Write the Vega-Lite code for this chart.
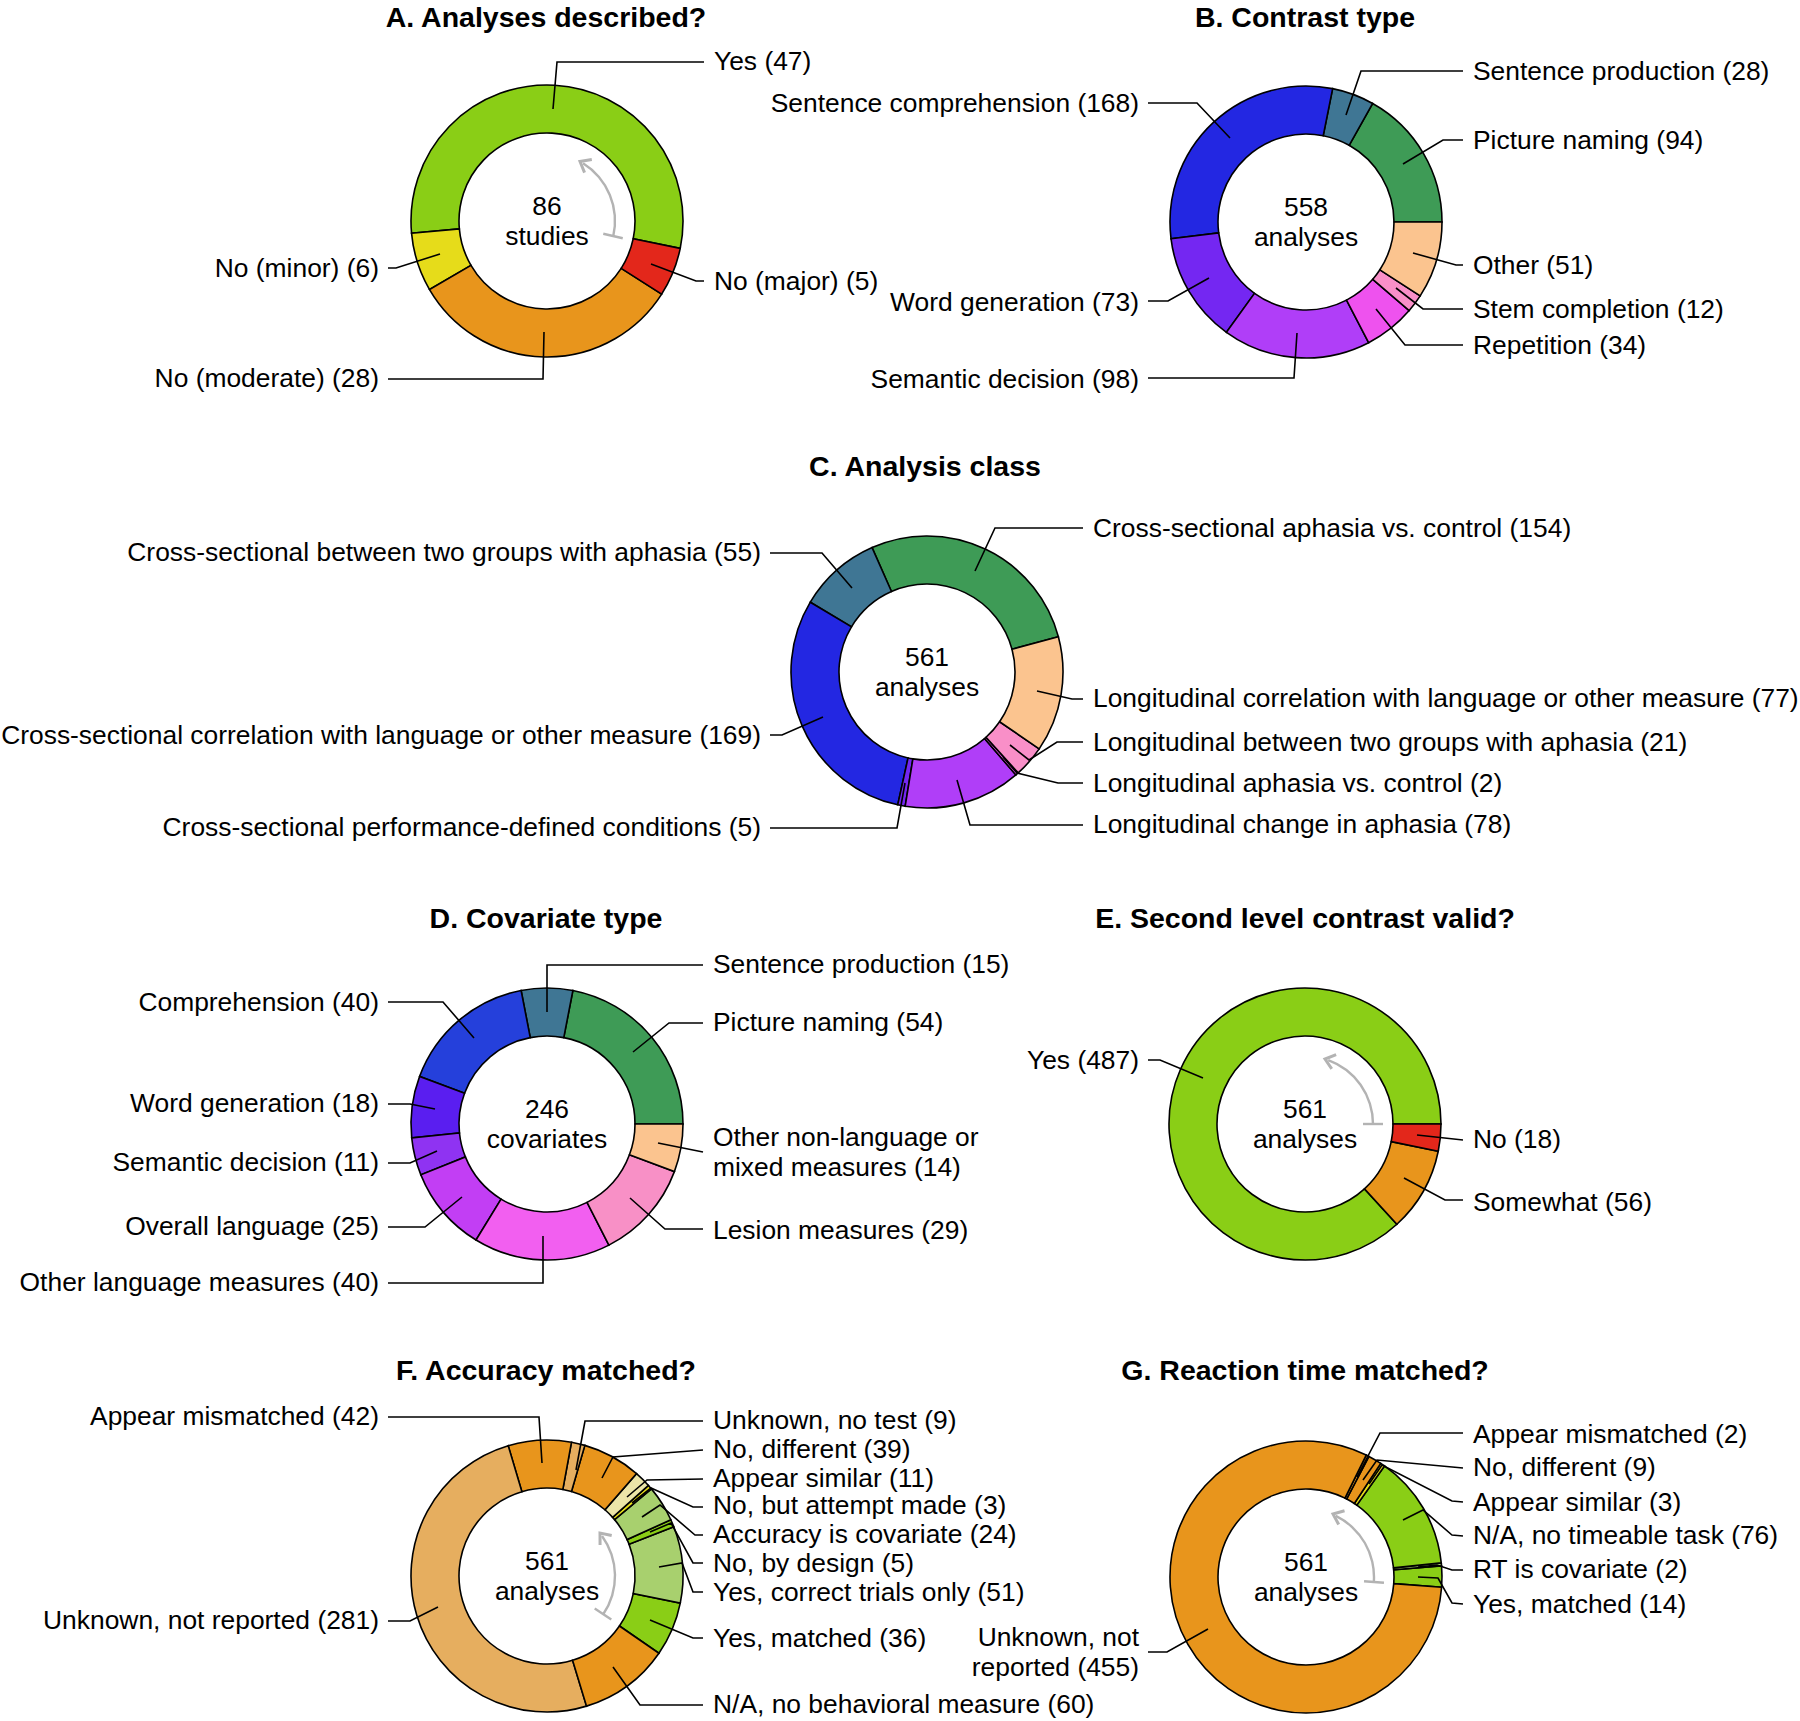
{
  "$schema": "https://vega.github.io/schema/vega-lite/v6.json",
  "width": 1800,
  "height": 1721,
  "autosize": {"type": "fit", "contains": "padding"},
  "padding": 0,
  "background": "white",
  "config": {"view": {"stroke": null}},
  "datasets": {
    "arcs": [
      {"chart": "A", "label": "Yes", "n": 47, "o": 1},
      {"chart": "A", "label": "No (minor)", "n": 6, "o": 2},
      {"chart": "A", "label": "No (moderate)", "n": 28, "o": 3},
      {"chart": "A", "label": "No (major)", "n": 5, "o": 4},
      {"chart": "B", "label": "Picture naming", "n": 94, "o": 1},
      {"chart": "B", "label": "Sentence production", "n": 28, "o": 2},
      {"chart": "B", "label": "Sentence comprehension", "n": 168, "o": 3},
      {"chart": "B", "label": "Word generation", "n": 73, "o": 4},
      {"chart": "B", "label": "Semantic decision", "n": 98, "o": 5},
      {"chart": "B", "label": "Repetition", "n": 34, "o": 6},
      {"chart": "B", "label": "Stem completion", "n": 12, "o": 7},
      {"chart": "B", "label": "Other", "n": 51, "o": 8},
      {"chart": "C", "label": "Cross-sectional aphasia vs. control", "n": 154, "o": 1},
      {"chart": "C", "label": "Cross-sectional between two groups with aphasia", "n": 55, "o": 2},
      {"chart": "C", "label": "Cross-sectional correlation with language or other measure", "n": 169, "o": 3},
      {"chart": "C", "label": "Cross-sectional performance-defined conditions", "n": 5, "o": 4},
      {"chart": "C", "label": "Longitudinal change in aphasia", "n": 78, "o": 5},
      {"chart": "C", "label": "Longitudinal aphasia vs. control", "n": 2, "o": 6},
      {"chart": "C", "label": "Longitudinal between two groups with aphasia", "n": 21, "o": 7},
      {"chart": "C", "label": "Longitudinal correlation with language or other measure", "n": 77, "o": 8},
      {"chart": "D", "label": "Picture naming", "n": 54, "o": 1},
      {"chart": "D", "label": "Sentence production", "n": 15, "o": 2},
      {"chart": "D", "label": "Comprehension", "n": 40, "o": 3},
      {"chart": "D", "label": "Word generation", "n": 18, "o": 4},
      {"chart": "D", "label": "Semantic decision", "n": 11, "o": 5},
      {"chart": "D", "label": "Overall language", "n": 25, "o": 6},
      {"chart": "D", "label": "Other language measures", "n": 40, "o": 7},
      {"chart": "D", "label": "Lesion measures", "n": 29, "o": 8},
      {"chart": "D", "label": "Other non-language or mixed measures", "n": 14, "o": 9},
      {"chart": "E", "label": "Yes", "n": 487, "o": 1},
      {"chart": "E", "label": "Somewhat", "n": 56, "o": 2},
      {"chart": "E", "label": "No", "n": 18, "o": 3},
      {"chart": "F", "label": "Yes, matched", "n": 36, "o": 1},
      {"chart": "F", "label": "Yes, correct trials only", "n": 51, "o": 2},
      {"chart": "F", "label": "No, by design", "n": 5, "o": 3},
      {"chart": "F", "label": "Accuracy is covariate", "n": 24, "o": 4},
      {"chart": "F", "label": "No, but attempt made", "n": 3, "o": 5},
      {"chart": "F", "label": "Appear similar", "n": 11, "o": 6},
      {"chart": "F", "label": "No, different", "n": 39, "o": 7},
      {"chart": "F", "label": "Unknown, no test", "n": 9, "o": 8},
      {"chart": "F", "label": "Appear mismatched", "n": 42, "o": 9},
      {"chart": "F", "label": "Unknown, not reported", "n": 281, "o": 10},
      {"chart": "F", "label": "N/A, no behavioral measure", "n": 60, "o": 11},
      {"chart": "G", "label": "Yes, matched", "n": 14, "o": 1},
      {"chart": "G", "label": "RT is covariate", "n": 2, "o": 2},
      {"chart": "G", "label": "N/A, no timeable task", "n": 76, "o": 3},
      {"chart": "G", "label": "Appear similar", "n": 3, "o": 4},
      {"chart": "G", "label": "No, different", "n": 9, "o": 5},
      {"chart": "G", "label": "Appear mismatched", "n": 2, "o": 6},
      {"chart": "G", "label": "Unknown, not reported", "n": 455, "o": 7}
    ],
    "leaders": [
      {"id": "A1", "s": 1, "x": 553, "y": 109}, {"id": "A1", "s": 2, "x": 557, "y": 62}, {"id": "A1", "s": 3, "x": 704, "y": 62},
      {"id": "A2", "s": 1, "x": 651, "y": 264}, {"id": "A2", "s": 2, "x": 696, "y": 281}, {"id": "A2", "s": 3, "x": 704, "y": 281},
      {"id": "A3", "s": 1, "x": 440, "y": 254}, {"id": "A3", "s": 2, "x": 396, "y": 268}, {"id": "A3", "s": 3, "x": 388, "y": 268},
      {"id": "A4", "s": 1, "x": 544, "y": 332}, {"id": "A4", "s": 2, "x": 543, "y": 379}, {"id": "A4", "s": 3, "x": 388, "y": 379},
      {"id": "B1", "s": 1, "x": 1346, "y": 115}, {"id": "B1", "s": 2, "x": 1361, "y": 71}, {"id": "B1", "s": 3, "x": 1463, "y": 71},
      {"id": "B2", "s": 1, "x": 1403, "y": 164}, {"id": "B2", "s": 2, "x": 1443, "y": 140}, {"id": "B2", "s": 3, "x": 1463, "y": 140},
      {"id": "B3", "s": 1, "x": 1413, "y": 253}, {"id": "B3", "s": 2, "x": 1456, "y": 265}, {"id": "B3", "s": 3, "x": 1463, "y": 265},
      {"id": "B4", "s": 1, "x": 1396, "y": 288}, {"id": "B4", "s": 2, "x": 1423, "y": 309}, {"id": "B4", "s": 3, "x": 1463, "y": 309},
      {"id": "B5", "s": 1, "x": 1376, "y": 309}, {"id": "B5", "s": 2, "x": 1405, "y": 345}, {"id": "B5", "s": 3, "x": 1463, "y": 345},
      {"id": "B6", "s": 1, "x": 1230, "y": 138}, {"id": "B6", "s": 2, "x": 1197, "y": 103}, {"id": "B6", "s": 3, "x": 1148, "y": 103},
      {"id": "B7", "s": 1, "x": 1209, "y": 278}, {"id": "B7", "s": 2, "x": 1168, "y": 301}, {"id": "B7", "s": 3, "x": 1148, "y": 301},
      {"id": "B8", "s": 1, "x": 1297, "y": 333}, {"id": "B8", "s": 2, "x": 1294, "y": 378}, {"id": "B8", "s": 3, "x": 1148, "y": 378},
      {"id": "C1", "s": 1, "x": 975, "y": 571}, {"id": "C1", "s": 2, "x": 995, "y": 528}, {"id": "C1", "s": 3, "x": 1083, "y": 528},
      {"id": "C2", "s": 1, "x": 1037, "y": 691}, {"id": "C2", "s": 2, "x": 1072, "y": 699}, {"id": "C2", "s": 3, "x": 1083, "y": 699},
      {"id": "C3", "s": 1, "x": 1010, "y": 745}, {"id": "C3", "s": 2, "x": 1029, "y": 760}, {"id": "C3", "s": 3, "x": 1057, "y": 742}, {"id": "C3", "s": 4, "x": 1083, "y": 742},
      {"id": "C4", "s": 1, "x": 1003, "y": 757}, {"id": "C4", "s": 2, "x": 1017, "y": 773}, {"id": "C4", "s": 3, "x": 1058, "y": 783}, {"id": "C4", "s": 4, "x": 1083, "y": 783},
      {"id": "C5", "s": 1, "x": 957, "y": 780}, {"id": "C5", "s": 2, "x": 970, "y": 825}, {"id": "C5", "s": 3, "x": 1083, "y": 825},
      {"id": "C6", "s": 1, "x": 852, "y": 588}, {"id": "C6", "s": 2, "x": 822, "y": 553}, {"id": "C6", "s": 3, "x": 770, "y": 553},
      {"id": "C7", "s": 1, "x": 823, "y": 717}, {"id": "C7", "s": 2, "x": 782, "y": 735}, {"id": "C7", "s": 3, "x": 770, "y": 735},
      {"id": "C8", "s": 1, "x": 905, "y": 783}, {"id": "C8", "s": 2, "x": 897, "y": 828}, {"id": "C8", "s": 3, "x": 770, "y": 828},
      {"id": "D1", "s": 1, "x": 547, "y": 1012}, {"id": "D1", "s": 2, "x": 547, "y": 965}, {"id": "D1", "s": 3, "x": 703, "y": 965},
      {"id": "D2", "s": 1, "x": 633, "y": 1052}, {"id": "D2", "s": 2, "x": 669, "y": 1023}, {"id": "D2", "s": 3, "x": 703, "y": 1023},
      {"id": "D3", "s": 1, "x": 658, "y": 1143}, {"id": "D3", "s": 2, "x": 703, "y": 1152},
      {"id": "D4", "s": 1, "x": 630, "y": 1198}, {"id": "D4", "s": 2, "x": 665, "y": 1229}, {"id": "D4", "s": 3, "x": 703, "y": 1229},
      {"id": "D5", "s": 1, "x": 474, "y": 1038}, {"id": "D5", "s": 2, "x": 443, "y": 1002}, {"id": "D5", "s": 3, "x": 388, "y": 1002},
      {"id": "D6", "s": 1, "x": 435, "y": 1109}, {"id": "D6", "s": 2, "x": 410, "y": 1104}, {"id": "D6", "s": 3, "x": 388, "y": 1104},
      {"id": "D7", "s": 1, "x": 437, "y": 1151}, {"id": "D7", "s": 2, "x": 410, "y": 1163}, {"id": "D7", "s": 3, "x": 388, "y": 1163},
      {"id": "D8", "s": 1, "x": 462, "y": 1197}, {"id": "D8", "s": 2, "x": 425, "y": 1227}, {"id": "D8", "s": 3, "x": 388, "y": 1227},
      {"id": "D9", "s": 1, "x": 543, "y": 1236}, {"id": "D9", "s": 2, "x": 543, "y": 1283}, {"id": "D9", "s": 3, "x": 388, "y": 1283},
      {"id": "E1", "s": 1, "x": 1203, "y": 1078}, {"id": "E1", "s": 2, "x": 1160, "y": 1060}, {"id": "E1", "s": 3, "x": 1148, "y": 1060},
      {"id": "E2", "s": 1, "x": 1417, "y": 1135}, {"id": "E2", "s": 2, "x": 1463, "y": 1140},
      {"id": "E3", "s": 1, "x": 1404, "y": 1178}, {"id": "E3", "s": 2, "x": 1445, "y": 1200}, {"id": "E3", "s": 3, "x": 1463, "y": 1200},
      {"id": "F1", "s": 1, "x": 542, "y": 1463}, {"id": "F1", "s": 2, "x": 539, "y": 1417}, {"id": "F1", "s": 3, "x": 388, "y": 1417},
      {"id": "F2", "s": 1, "x": 438, "y": 1607}, {"id": "F2", "s": 2, "x": 410, "y": 1621}, {"id": "F2", "s": 3, "x": 388, "y": 1621},
      {"id": "F3", "s": 1, "x": 576, "y": 1470}, {"id": "F3", "s": 2, "x": 585, "y": 1421}, {"id": "F3", "s": 3, "x": 703, "y": 1421},
      {"id": "F4", "s": 1, "x": 602, "y": 1478}, {"id": "F4", "s": 2, "x": 613, "y": 1457}, {"id": "F4", "s": 3, "x": 703, "y": 1450},
      {"id": "F5", "s": 1, "x": 627, "y": 1497}, {"id": "F5", "s": 2, "x": 647, "y": 1480}, {"id": "F5", "s": 3, "x": 703, "y": 1479},
      {"id": "F6", "s": 1, "x": 632, "y": 1503}, {"id": "F6", "s": 2, "x": 651, "y": 1488}, {"id": "F6", "s": 3, "x": 693, "y": 1507}, {"id": "F6", "s": 4, "x": 703, "y": 1507},
      {"id": "F7", "s": 1, "x": 642, "y": 1517}, {"id": "F7", "s": 2, "x": 660, "y": 1505}, {"id": "F7", "s": 3, "x": 695, "y": 1535}, {"id": "F7", "s": 4, "x": 703, "y": 1535},
      {"id": "F8", "s": 1, "x": 650, "y": 1532}, {"id": "F8", "s": 2, "x": 671, "y": 1523}, {"id": "F8", "s": 3, "x": 693, "y": 1563}, {"id": "F8", "s": 4, "x": 703, "y": 1563},
      {"id": "F9", "s": 1, "x": 659, "y": 1567}, {"id": "F9", "s": 2, "x": 682, "y": 1563}, {"id": "F9", "s": 3, "x": 693, "y": 1592}, {"id": "F9", "s": 4, "x": 703, "y": 1592},
      {"id": "F10", "s": 1, "x": 650, "y": 1620}, {"id": "F10", "s": 2, "x": 693, "y": 1638}, {"id": "F10", "s": 3, "x": 703, "y": 1638},
      {"id": "F11", "s": 1, "x": 613, "y": 1667}, {"id": "F11", "s": 2, "x": 640, "y": 1705}, {"id": "F11", "s": 3, "x": 703, "y": 1705},
      {"id": "G1", "s": 1, "x": 1357, "y": 1477}, {"id": "G1", "s": 2, "x": 1380, "y": 1433}, {"id": "G1", "s": 3, "x": 1463, "y": 1433},
      {"id": "G2", "s": 1, "x": 1363, "y": 1480}, {"id": "G2", "s": 2, "x": 1377, "y": 1460}, {"id": "G2", "s": 3, "x": 1463, "y": 1468},
      {"id": "G3", "s": 1, "x": 1369, "y": 1484}, {"id": "G3", "s": 2, "x": 1382, "y": 1465}, {"id": "G3", "s": 3, "x": 1452, "y": 1501}, {"id": "G3", "s": 4, "x": 1463, "y": 1502},
      {"id": "G4", "s": 1, "x": 1403, "y": 1520}, {"id": "G4", "s": 2, "x": 1423, "y": 1510}, {"id": "G4", "s": 3, "x": 1452, "y": 1535}, {"id": "G4", "s": 4, "x": 1463, "y": 1536},
      {"id": "G5", "s": 1, "x": 1418, "y": 1567}, {"id": "G5", "s": 2, "x": 1437, "y": 1565}, {"id": "G5", "s": 3, "x": 1452, "y": 1570}, {"id": "G5", "s": 4, "x": 1463, "y": 1570},
      {"id": "G6", "s": 1, "x": 1418, "y": 1577}, {"id": "G6", "s": 2, "x": 1438, "y": 1578}, {"id": "G6", "s": 3, "x": 1452, "y": 1603}, {"id": "G6", "s": 4, "x": 1463, "y": 1604},
      {"id": "G7", "s": 1, "x": 1208, "y": 1629}, {"id": "G7", "s": 2, "x": 1167, "y": 1652}, {"id": "G7", "s": 3, "x": 1148, "y": 1652}
    ],
    "labels": [
      {"text": "Yes (47)", "side": "R", "x": 704, "y": 62},
      {"text": "No (major) (5)", "side": "R", "x": 704, "y": 282},
      {"text": "No (minor) (6)", "side": "L", "x": 388, "y": 269},
      {"text": "No (moderate) (28)", "side": "L", "x": 388, "y": 379},
      {"text": "Sentence production (28)", "side": "R", "x": 1463, "y": 72},
      {"text": "Picture naming (94)", "side": "R", "x": 1463, "y": 141},
      {"text": "Other (51)", "side": "R", "x": 1463, "y": 266},
      {"text": "Stem completion (12)", "side": "R", "x": 1463, "y": 310},
      {"text": "Repetition (34)", "side": "R", "x": 1463, "y": 346},
      {"text": "Sentence comprehension (168)", "side": "L", "x": 1148, "y": 104},
      {"text": "Word generation (73)", "side": "L", "x": 1148, "y": 303},
      {"text": "Semantic decision (98)", "side": "L", "x": 1148, "y": 380},
      {"text": "Cross-sectional aphasia vs. control (154)", "side": "R", "x": 1083, "y": 529},
      {"text": "Longitudinal correlation with language or other measure (77)", "side": "R", "x": 1083, "y": 699},
      {"text": "Longitudinal between two groups with aphasia (21)", "side": "R", "x": 1083, "y": 743},
      {"text": "Longitudinal aphasia vs. control (2)", "side": "R", "x": 1083, "y": 784},
      {"text": "Longitudinal change in aphasia (78)", "side": "R", "x": 1083, "y": 825},
      {"text": "Cross-sectional between two groups with aphasia (55)", "side": "L", "x": 770, "y": 553},
      {"text": "Cross-sectional correlation with language or other measure (169)", "side": "L", "x": 770, "y": 736},
      {"text": "Cross-sectional performance-defined conditions (5)", "side": "L", "x": 770, "y": 828},
      {"text": "Sentence production (15)", "side": "R", "x": 703, "y": 965},
      {"text": "Picture naming (54)", "side": "R", "x": 703, "y": 1023},
      {"text": "Other non-language or\nmixed measures (14)", "side": "R", "x": 703, "y": 1138},
      {"text": "Lesion measures (29)", "side": "R", "x": 703, "y": 1231},
      {"text": "Comprehension (40)", "side": "L", "x": 388, "y": 1003},
      {"text": "Word generation (18)", "side": "L", "x": 388, "y": 1104},
      {"text": "Semantic decision (11)", "side": "L", "x": 388, "y": 1163},
      {"text": "Overall language (25)", "side": "L", "x": 388, "y": 1227},
      {"text": "Other language measures (40)", "side": "L", "x": 388, "y": 1283},
      {"text": "Yes (487)", "side": "L", "x": 1148, "y": 1061},
      {"text": "No (18)", "side": "R", "x": 1463, "y": 1140},
      {"text": "Somewhat (56)", "side": "R", "x": 1463, "y": 1203},
      {"text": "Appear mismatched (42)", "side": "L", "x": 388, "y": 1417},
      {"text": "Unknown, not reported (281)", "side": "L", "x": 388, "y": 1621},
      {"text": "Unknown, no test (9)", "side": "R", "x": 703, "y": 1421},
      {"text": "No, different (39)", "side": "R", "x": 703, "y": 1450},
      {"text": "Appear similar (11)", "side": "R", "x": 703, "y": 1479},
      {"text": "No, but attempt made (3)", "side": "R", "x": 703, "y": 1506},
      {"text": "Accuracy is covariate (24)", "side": "R", "x": 703, "y": 1535},
      {"text": "No, by design (5)", "side": "R", "x": 703, "y": 1564},
      {"text": "Yes, correct trials only (51)", "side": "R", "x": 703, "y": 1593},
      {"text": "Yes, matched (36)", "side": "R", "x": 703, "y": 1639},
      {"text": "N/A, no behavioral measure (60)", "side": "R", "x": 703, "y": 1705},
      {"text": "Appear mismatched (2)", "side": "R", "x": 1463, "y": 1435},
      {"text": "No, different (9)", "side": "R", "x": 1463, "y": 1468},
      {"text": "Appear similar (3)", "side": "R", "x": 1463, "y": 1503},
      {"text": "N/A, no timeable task (76)", "side": "R", "x": 1463, "y": 1536},
      {"text": "RT is covariate (2)", "side": "R", "x": 1463, "y": 1570},
      {"text": "Yes, matched (14)", "side": "R", "x": 1463, "y": 1605},
      {"text": "Unknown, not\nreported (455)", "side": "L", "x": 1148, "y": 1638}
    ],
    "titles": [
      {"text": "A. Analyses described?", "x": 546, "y": 18},
      {"text": "B. Contrast type", "x": 1305, "y": 18},
      {"text": "C. Analysis class", "x": 925, "y": 467},
      {"text": "D. Covariate type", "x": 546, "y": 919},
      {"text": "E. Second level contrast valid?", "x": 1305, "y": 919},
      {"text": "F. Accuracy matched?", "x": 546, "y": 1371},
      {"text": "G. Reaction time matched?", "x": 1305, "y": 1371}
    ],
    "centers": [
      {"text": "86\nstudies", "x": 547, "y": 222},
      {"text": "558\nanalyses", "x": 1306, "y": 223},
      {"text": "561\nanalyses", "x": 927, "y": 673},
      {"text": "246\ncovariates", "x": 547, "y": 1125},
      {"text": "561\nanalyses", "x": 1305, "y": 1125},
      {"text": "561\nanalyses", "x": 547, "y": 1577},
      {"text": "561\nanalyses", "x": 1306, "y": 1578}
    ]
  },
  "layer": [
    {
      "data": {"name": "arcs"},
      "transform": [{"filter": "datum.chart === 'A'"}, {"stack": "n", "groupby": [], "sort": [{"field": "o", "order": "ascending"}], "offset": "normalize", "as": ["t0", "t1"]}],
      "mark": {"type": "arc", "radius": 136, "radius2": 88, "stroke": "black", "strokeWidth": 1.6},
      "encoding": {
        "x": {"datum": 547, "type": "quantitative", "stack": null, "scale": {"domain": [0, 1800], "nice": false, "zero": false}, "axis": null},
        "y": {"datum": 221, "type": "quantitative", "stack": null, "scale": {"domain": [0, 1721], "nice": false, "zero": false, "reverse": true}, "axis": null},
        "theta": {"field": "t0", "type": "quantitative", "stack": null, "scale": {"domain": [0, 1], "range": [1.7733, -4.5099]}},
        "theta2": {"field": "t1"},
        "color": {"field": "label", "type": "nominal", "legend": null, "scale": {"domain": ["Yes", "No (minor)", "No (moderate)", "No (major)"], "range": ["#8ACE16", "#E6DC1A", "#E8951C", "#E3271B"]}}
      }
    },
    {
      "data": {"name": "arcs"},
      "transform": [{"filter": "datum.chart === 'B'"}, {"stack": "n", "groupby": [], "sort": [{"field": "o", "order": "ascending"}], "offset": "normalize", "as": ["t0", "t1"]}],
      "mark": {"type": "arc", "radius": 136, "radius2": 88, "stroke": "black", "strokeWidth": 1.6},
      "encoding": {
        "x": {"datum": 1306, "type": "quantitative", "stack": null, "scale": {"domain": [0, 1800], "nice": false, "zero": false}, "axis": null},
        "y": {"datum": 222, "type": "quantitative", "stack": null, "scale": {"domain": [0, 1721], "nice": false, "zero": false, "reverse": true}, "axis": null},
        "theta": {"field": "t0", "type": "quantitative", "stack": null, "scale": {"domain": [0, 1], "range": [1.5708, -4.7124]}},
        "theta2": {"field": "t1"},
        "color": {"field": "label", "type": "nominal", "legend": null, "scale": {"domain": ["Picture naming", "Sentence production", "Sentence comprehension", "Word generation", "Semantic decision", "Repetition", "Stem completion", "Other"], "range": ["#3E9B56", "#3F7694", "#2327E2", "#7427F2", "#B03EF8", "#EE52EE", "#F98FC8", "#FBC48F"]}}
      }
    },
    {
      "data": {"name": "arcs"},
      "transform": [{"filter": "datum.chart === 'C'"}, {"stack": "n", "groupby": [], "sort": [{"field": "o", "order": "ascending"}], "offset": "normalize", "as": ["t0", "t1"]}],
      "mark": {"type": "arc", "radius": 136, "radius2": 88, "stroke": "black", "strokeWidth": 1.6},
      "encoding": {
        "x": {"datum": 927, "type": "quantitative", "stack": null, "scale": {"domain": [0, 1800], "nice": false, "zero": false}, "axis": null},
        "y": {"datum": 672, "type": "quantitative", "stack": null, "scale": {"domain": [0, 1721], "nice": false, "zero": false, "reverse": true}, "axis": null},
        "theta": {"field": "t0", "type": "quantitative", "stack": null, "scale": {"domain": [0, 1], "range": [1.3090, -4.9742]}},
        "theta2": {"field": "t1"},
        "color": {"field": "label", "type": "nominal", "legend": null, "scale": {"domain": ["Cross-sectional aphasia vs. control", "Cross-sectional between two groups with aphasia", "Cross-sectional correlation with language or other measure", "Cross-sectional performance-defined conditions", "Longitudinal change in aphasia", "Longitudinal aphasia vs. control", "Longitudinal between two groups with aphasia", "Longitudinal correlation with language or other measure"], "range": ["#3E9B56", "#3F7694", "#2327E2", "#7427F2", "#B03EF8", "#EE52EE", "#F98FC8", "#FBC48F"]}}
      }
    },
    {
      "data": {"name": "arcs"},
      "transform": [{"filter": "datum.chart === 'D'"}, {"stack": "n", "groupby": [], "sort": [{"field": "o", "order": "ascending"}], "offset": "normalize", "as": ["t0", "t1"]}],
      "mark": {"type": "arc", "radius": 136, "radius2": 88, "stroke": "black", "strokeWidth": 1.6},
      "encoding": {
        "x": {"datum": 547, "type": "quantitative", "stack": null, "scale": {"domain": [0, 1800], "nice": false, "zero": false}, "axis": null},
        "y": {"datum": 1124, "type": "quantitative", "stack": null, "scale": {"domain": [0, 1721], "nice": false, "zero": false, "reverse": true}, "axis": null},
        "theta": {"field": "t0", "type": "quantitative", "stack": null, "scale": {"domain": [0, 1], "range": [1.5708, -4.7124]}},
        "theta2": {"field": "t1"},
        "color": {"field": "label", "type": "nominal", "legend": null, "scale": {"domain": ["Picture naming", "Sentence production", "Comprehension", "Word generation", "Semantic decision", "Overall language", "Other language measures", "Lesion measures", "Other non-language or mixed measures"], "range": ["#3E9B56", "#3F7694", "#2540DB", "#5A1EF0", "#8F33F2", "#C23EF4", "#F25FF0", "#F890C6", "#FBC48F"]}}
      }
    },
    {
      "data": {"name": "arcs"},
      "transform": [{"filter": "datum.chart === 'E'"}, {"stack": "n", "groupby": [], "sort": [{"field": "o", "order": "ascending"}], "offset": "normalize", "as": ["t0", "t1"]}],
      "mark": {"type": "arc", "radius": 136, "radius2": 88, "stroke": "black", "strokeWidth": 1.6},
      "encoding": {
        "x": {"datum": 1305, "type": "quantitative", "stack": null, "scale": {"domain": [0, 1800], "nice": false, "zero": false}, "axis": null},
        "y": {"datum": 1124, "type": "quantitative", "stack": null, "scale": {"domain": [0, 1721], "nice": false, "zero": false, "reverse": true}, "axis": null},
        "theta": {"field": "t0", "type": "quantitative", "stack": null, "scale": {"domain": [0, 1], "range": [1.5708, -4.7124]}},
        "theta2": {"field": "t1"},
        "color": {"field": "label", "type": "nominal", "legend": null, "scale": {"domain": ["Yes", "Somewhat", "No"], "range": ["#8ACE16", "#E8951C", "#E3271B"]}}
      }
    },
    {
      "data": {"name": "arcs"},
      "transform": [{"filter": "datum.chart === 'F'"}, {"stack": "n", "groupby": [], "sort": [{"field": "o", "order": "ascending"}], "offset": "normalize", "as": ["t0", "t1"]}],
      "mark": {"type": "arc", "radius": 136, "radius2": 88, "stroke": "black", "strokeWidth": 1.6},
      "encoding": {
        "x": {"datum": 547, "type": "quantitative", "stack": null, "scale": {"domain": [0, 1800], "nice": false, "zero": false}, "axis": null},
        "y": {"datum": 1576, "type": "quantitative", "stack": null, "scale": {"domain": [0, 1721], "nice": false, "zero": false, "reverse": true}, "axis": null},
        "theta": {"field": "t0", "type": "quantitative", "stack": null, "scale": {"domain": [0, 1], "range": [2.1747, -4.1085]}},
        "theta2": {"field": "t1"},
        "color": {"field": "label", "type": "nominal", "legend": null, "scale": {"domain": ["Yes, matched", "Yes, correct trials only", "No, by design", "Accuracy is covariate", "No, but attempt made", "Appear similar", "No, different", "Unknown, no test", "Appear mismatched", "Unknown, not reported", "N/A, no behavioral measure"], "range": ["#8ACE16", "#A8D06E", "#8ACE16", "#A8D06E", "#E6DC1A", "#ECE5A8", "#E8951C", "#E6AE5F", "#E8951C", "#E6AE5F", "#E8951C"]}}
      }
    },
    {
      "data": {"name": "arcs"},
      "transform": [{"filter": "datum.chart === 'G'"}, {"stack": "n", "groupby": [], "sort": [{"field": "o", "order": "ascending"}], "offset": "normalize", "as": ["t0", "t1"]}],
      "mark": {"type": "arc", "radius": 136, "radius2": 88, "stroke": "black", "strokeWidth": 1.6},
      "encoding": {
        "x": {"datum": 1306, "type": "quantitative", "stack": null, "scale": {"domain": [0, 1800], "nice": false, "zero": false}, "axis": null},
        "y": {"datum": 1577, "type": "quantitative", "stack": null, "scale": {"domain": [0, 1721], "nice": false, "zero": false, "reverse": true}, "axis": null},
        "theta": {"field": "t0", "type": "quantitative", "stack": null, "scale": {"domain": [0, 1], "range": [1.6458, -4.6374]}},
        "theta2": {"field": "t1"},
        "color": {"field": "label", "type": "nominal", "legend": null, "scale": {"domain": ["Yes, matched", "RT is covariate", "N/A, no timeable task", "Appear similar", "No, different", "Appear mismatched", "Unknown, not reported"], "range": ["#8ACE16", "#A8D06E", "#8ACE16", "#E6DC1A", "#E8951C", "#E8951C", "#E8951C"]}}
      }
    },
    {
      "data": {"values": [{}]},
      "mark": {"type": "arc", "radius": 69.2, "radius2": 66.8, "theta": 1.7977, "theta2": 0.5585, "fill": "#B3B3B3"},
      "encoding": {
        "x": {"datum": 547, "type": "quantitative", "stack": null, "axis": null},
        "y": {"datum": 221, "type": "quantitative", "stack": null, "axis": null}
      }
    },
    {
      "data": {"values": [{}]},
      "mark": {"type": "arc", "radius": 69.2, "radius2": 66.8, "theta": 1.5708, "theta2": 0.3491, "fill": "#B3B3B3"},
      "encoding": {
        "x": {"datum": 1305, "type": "quantitative", "stack": null, "axis": null},
        "y": {"datum": 1124, "type": "quantitative", "stack": null, "axis": null}
      }
    },
    {
      "data": {"values": [{}]},
      "mark": {"type": "arc", "radius": 69.2, "radius2": 66.8, "theta": 2.1642, "theta2": 0.9425, "fill": "#B3B3B3"},
      "encoding": {
        "x": {"datum": 547, "type": "quantitative", "stack": null, "axis": null},
        "y": {"datum": 1576, "type": "quantitative", "stack": null, "axis": null}
      }
    },
    {
      "data": {"values": [{}]},
      "mark": {"type": "arc", "radius": 69.2, "radius2": 66.8, "theta": 1.6406, "theta2": 0.4538, "fill": "#B3B3B3"},
      "encoding": {
        "x": {"datum": 1306, "type": "quantitative", "stack": null, "axis": null},
        "y": {"datum": 1577, "type": "quantitative", "stack": null, "axis": null}
      }
    },
    {
      "data": {"values": [{}]},
      "mark": {"type": "point", "shape": "M -0.8 1 L 0 0 L 0.8 1", "size": 350, "filled": false, "stroke": "#B3B3B3", "strokeWidth": 3, "angle": 299, "opacity": 1},
      "encoding": {"x": {"datum": 580, "type": "quantitative", "axis": null}, "y": {"datum": 161.5, "type": "quantitative", "axis": null}}
    },
    {
      "data": {"values": [{}]},
      "mark": {"type": "point", "shape": "M -0.8 1 L 0 0 L 0.8 1", "size": 350, "filled": false, "stroke": "#B3B3B3", "strokeWidth": 3, "angle": 287, "opacity": 1},
      "encoding": {"x": {"datum": 1325, "type": "quantitative", "axis": null}, "y": {"datum": 1059, "type": "quantitative", "axis": null}}
    },
    {
      "data": {"values": [{}]},
      "mark": {"type": "point", "shape": "M -0.8 1 L 0 0 L 0.8 1", "size": 350, "filled": false, "stroke": "#B3B3B3", "strokeWidth": 3, "angle": 321, "opacity": 1},
      "encoding": {"x": {"datum": 600, "type": "quantitative", "axis": null}, "y": {"datum": 1533, "type": "quantitative", "axis": null}}
    },
    {
      "data": {"values": [{}]},
      "mark": {"type": "point", "shape": "M -0.8 1 L 0 0 L 0.8 1", "size": 350, "filled": false, "stroke": "#B3B3B3", "strokeWidth": 3, "angle": 293, "opacity": 1},
      "encoding": {"x": {"datum": 1333, "type": "quantitative", "axis": null}, "y": {"datum": 1514, "type": "quantitative", "axis": null}}
    },
    {
      "data": {"values": [{}]},
      "mark": {"type": "point", "shape": "M -1 0 L 1 0", "size": 400, "filled": false, "stroke": "#B3B3B3", "strokeWidth": 2.4, "angle": 13, "opacity": 1},
      "encoding": {"x": {"datum": 613, "type": "quantitative", "axis": null}, "y": {"datum": 236, "type": "quantitative", "axis": null}}
    },
    {
      "data": {"values": [{}]},
      "mark": {"type": "point", "shape": "M -1 0 L 1 0", "size": 400, "filled": false, "stroke": "#B3B3B3", "strokeWidth": 2.4, "angle": 0, "opacity": 1},
      "encoding": {"x": {"datum": 1373, "type": "quantitative", "axis": null}, "y": {"datum": 1124, "type": "quantitative", "axis": null}}
    },
    {
      "data": {"values": [{}]},
      "mark": {"type": "point", "shape": "M -1 0 L 1 0", "size": 400, "filled": false, "stroke": "#B3B3B3", "strokeWidth": 2.4, "angle": 34, "opacity": 1},
      "encoding": {"x": {"datum": 603, "type": "quantitative", "axis": null}, "y": {"datum": 1614, "type": "quantitative", "axis": null}}
    },
    {
      "data": {"values": [{}]},
      "mark": {"type": "point", "shape": "M -1 0 L 1 0", "size": 400, "filled": false, "stroke": "#B3B3B3", "strokeWidth": 2.4, "angle": 4, "opacity": 1},
      "encoding": {"x": {"datum": 1374, "type": "quantitative", "axis": null}, "y": {"datum": 1582, "type": "quantitative", "axis": null}}
    },
    {
      "data": {"name": "leaders"},
      "mark": {"type": "line", "color": "black", "strokeWidth": 1.6},
      "encoding": {
        "x": {"field": "x", "type": "quantitative", "scale": {"domain": [0, 1800], "nice": false, "zero": false}, "axis": null},
        "y": {"field": "y", "type": "quantitative", "scale": {"domain": [0, 1721], "nice": false, "zero": false, "reverse": true}, "axis": null},
        "detail": {"field": "id"},
        "order": {"field": "s", "type": "quantitative"}
      }
    },
    {
      "data": {"name": "labels"},
      "transform": [{"filter": "datum.side === 'R'"}],
      "mark": {"type": "text", "align": "left", "baseline": "middle", "dx": 10, "font": "Liberation Sans", "fontSize": 26.4, "lineBreak": "\n", "lineHeight": 30, "color": "black"},
      "encoding": {
        "x": {"field": "x", "type": "quantitative", "axis": null},
        "y": {"field": "y", "type": "quantitative", "axis": null},
        "text": {"field": "text"}
      }
    },
    {
      "data": {"name": "labels"},
      "transform": [{"filter": "datum.side === 'L'"}],
      "mark": {"type": "text", "align": "right", "baseline": "middle", "dx": -9, "font": "Liberation Sans", "fontSize": 26.4, "lineBreak": "\n", "lineHeight": 30, "color": "black"},
      "encoding": {
        "x": {"field": "x", "type": "quantitative", "axis": null},
        "y": {"field": "y", "type": "quantitative", "axis": null},
        "text": {"field": "text"}
      }
    },
    {
      "data": {"name": "centers"},
      "mark": {"type": "text", "align": "center", "baseline": "middle", "dy": -15, "font": "Liberation Sans", "fontSize": 26.4, "lineBreak": "\n", "lineHeight": 30, "color": "black"},
      "encoding": {
        "x": {"field": "x", "type": "quantitative", "axis": null},
        "y": {"field": "y", "type": "quantitative", "axis": null},
        "text": {"field": "text"}
      }
    },
    {
      "data": {"name": "titles"},
      "mark": {"type": "text", "align": "center", "baseline": "middle", "font": "Liberation Sans", "fontSize": 28.5, "fontWeight": "bold", "color": "black"},
      "encoding": {
        "x": {"field": "x", "type": "quantitative", "axis": null},
        "y": {"field": "y", "type": "quantitative", "axis": null},
        "text": {"field": "text"}
      }
    }
  ],
  "resolve": {"scale": {"theta": "independent", "color": "independent"}}
}
